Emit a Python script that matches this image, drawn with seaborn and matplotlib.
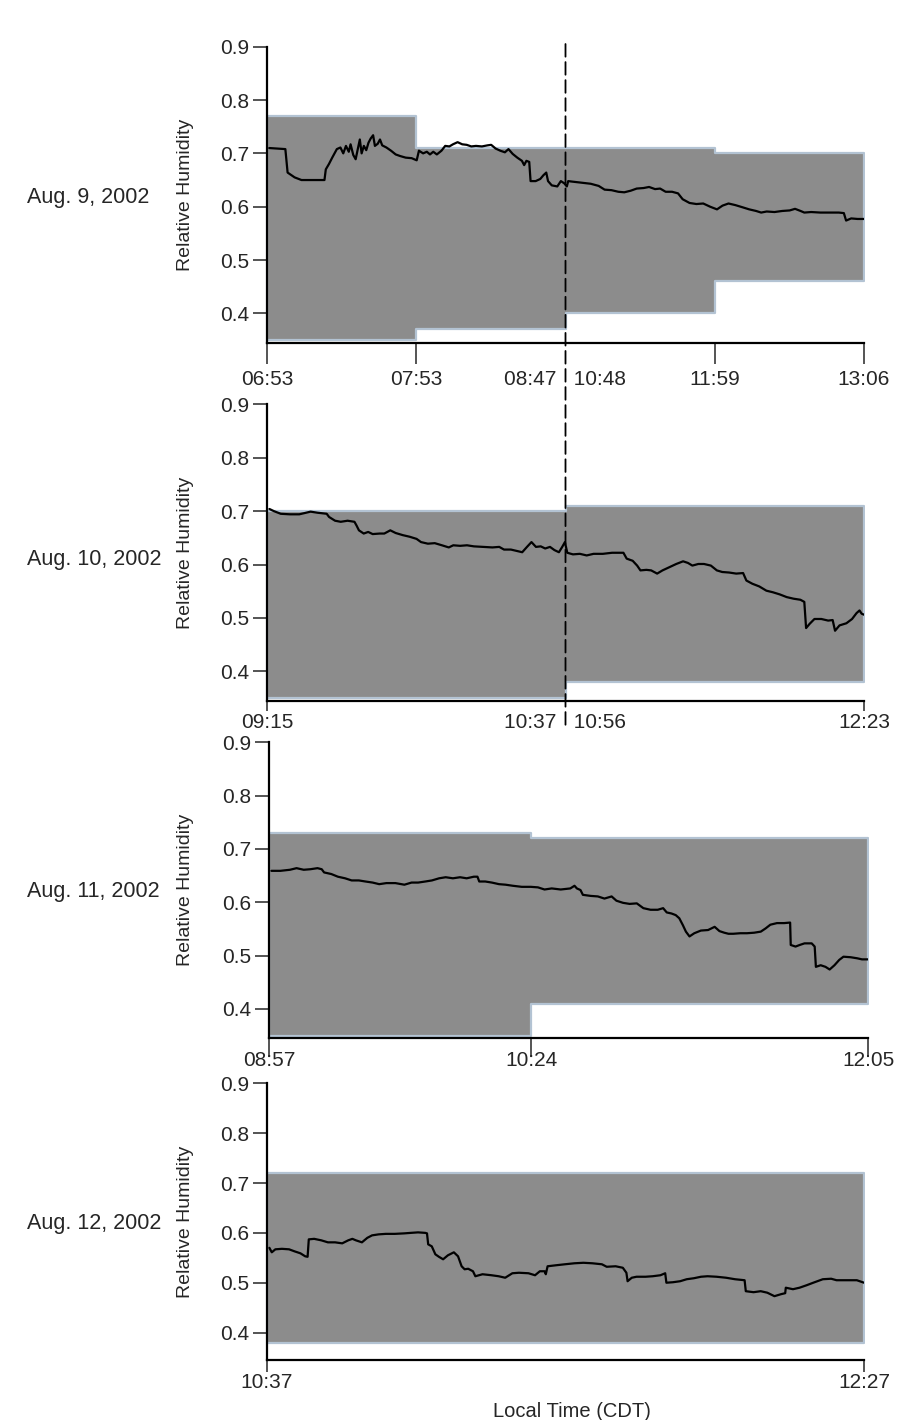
import numpy as np
import pandas as pd
import matplotlib
matplotlib.use("Agg")
import matplotlib.pyplot as plt
from matplotlib.patches import ConnectionPatch
import seaborn as sns

# ---------------------------------------------------------------- data
dates = ["Aug. 9, 2002", "Aug. 10, 2002", "Aug. 11, 2002", "Aug. 12, 2002"]

# time-axis ticks: boundaries between sampling periods
ticks_aug9 = [0, 1, 2, 3, 4]
ticks_aug10 = [0, 1, 2]
ticks_aug11 = [0, 0.438, 1]
ticks_aug12 = [0, 1]

labels_aug9 = ["06:53", "07:53", "08:47   10:48", "11:59", "13:06"]
labels_aug10 = ["09:15", "10:37   10:56", "12:23"]
labels_aug11 = ["08:57", "10:24", "12:05"]
labels_aug12 = ["10:37", "12:27"]

# gap in the record (drawn as a dashed line) for the first two days
gap_aug9 = 2
gap_aug10 = 1

# modelled humidity range in each sampling period
box_lo_aug9 = [0.35, 0.37, 0.40, 0.46]
box_hi_aug9 = [0.77, 0.71, 0.71, 0.70]
box_lo_aug10 = [0.35, 0.38]
box_hi_aug10 = [0.70, 0.71]
box_lo_aug11 = [0.35, 0.41]
box_hi_aug11 = [0.73, 0.72]
box_lo_aug12 = [0.38]
box_hi_aug12 = [0.72]

# measured relative humidity
t_aug9 = [0.015, 0.123, 0.138, 0.185, 0.231, 0.385, 0.394, 0.415, 0.437, 0.468,
          0.492, 0.511, 0.529, 0.548, 0.560, 0.578, 0.594, 0.609, 0.622, 0.634,
          0.649, 0.665, 0.680, 0.695, 0.711, 0.723, 0.742, 0.757, 0.772, 0.800,
          0.831, 0.862, 0.892, 0.929, 0.969, 1.003, 1.018, 1.046, 1.071, 1.092,
          1.114, 1.138, 1.169, 1.194, 1.222, 1.246, 1.277, 1.308, 1.338, 1.369,
          1.400, 1.440, 1.477, 1.502, 1.532, 1.563, 1.594, 1.618, 1.646, 1.677,
          1.708, 1.723, 1.738, 1.757, 1.766, 1.800, 1.831, 1.852, 1.871, 1.883,
          1.908, 1.945, 1.969, 1.991, 2.009, 2.018, 2.046, 2.108, 2.169, 2.222,
          2.262, 2.308, 2.354, 2.394, 2.437, 2.477, 2.523, 2.560, 2.600, 2.634,
          2.671, 2.714, 2.754, 2.785, 2.831, 2.877, 2.923, 2.969, 3.015, 3.052,
          3.092, 3.138, 3.185, 3.231, 3.277, 3.311, 3.348, 3.400, 3.452, 3.502,
          3.538, 3.575, 3.600, 3.646, 3.708, 3.769, 3.831, 3.865, 3.880, 3.914,
          3.957, 4.000]
rh_aug9 = [0.710, 0.708, 0.664, 0.655, 0.650, 0.650, 0.670, 0.680, 0.692, 0.708,
           0.711, 0.700, 0.714, 0.703, 0.717, 0.697, 0.689, 0.709, 0.726, 0.700,
           0.714, 0.706, 0.720, 0.728, 0.734, 0.714, 0.718, 0.726, 0.715, 0.711,
           0.705, 0.698, 0.695, 0.692, 0.691, 0.687, 0.705, 0.700, 0.703, 0.698,
           0.703, 0.698, 0.705, 0.714, 0.713, 0.717, 0.721, 0.717, 0.716, 0.713,
           0.714, 0.713, 0.715, 0.716, 0.709, 0.705, 0.702, 0.708, 0.699, 0.692,
           0.686, 0.678, 0.686, 0.684, 0.648, 0.648, 0.652, 0.659, 0.664, 0.648,
           0.640, 0.638, 0.648, 0.644, 0.638, 0.648, 0.647, 0.645, 0.643, 0.639,
           0.632, 0.631, 0.628, 0.627, 0.630, 0.634, 0.635, 0.637, 0.633, 0.634,
           0.628, 0.628, 0.625, 0.614, 0.607, 0.605, 0.606, 0.600, 0.595, 0.602,
           0.606, 0.603, 0.599, 0.595, 0.592, 0.589, 0.591, 0.590, 0.592, 0.593,
           0.596, 0.592, 0.589, 0.590, 0.589, 0.589, 0.589, 0.588, 0.574, 0.578,
           0.577, 0.577]

t_aug10 = [0.008, 0.023, 0.046, 0.077, 0.108, 0.131, 0.146, 0.169, 0.200, 0.208,
           0.228, 0.247, 0.270, 0.293, 0.300, 0.308, 0.324, 0.339, 0.354, 0.378,
           0.393, 0.413, 0.431, 0.455, 0.478, 0.501, 0.516, 0.539, 0.562, 0.586,
           0.609, 0.624, 0.647, 0.670, 0.693, 0.724, 0.755, 0.778, 0.794, 0.817,
           0.840, 0.855, 0.871, 0.886, 0.901, 0.917, 0.932, 0.948, 0.963, 0.978,
           0.989, 0.998, 1.006, 1.025, 1.048, 1.071, 1.094, 1.125, 1.156, 1.194,
           1.205, 1.225, 1.240, 1.251, 1.271, 1.287, 1.307, 1.325, 1.348, 1.371,
           1.394, 1.410, 1.425, 1.445, 1.464, 1.487, 1.507, 1.525, 1.548, 1.572,
           1.595, 1.606, 1.626, 1.649, 1.673, 1.695, 1.718, 1.741, 1.764, 1.787,
           1.800, 1.806, 1.818, 1.834, 1.857, 1.880, 1.895, 1.903, 1.918, 1.941,
           1.960, 1.975, 1.985, 1.992, 2.000]
rh_aug10 = [0.704, 0.700, 0.695, 0.694, 0.694, 0.697, 0.699, 0.697, 0.695, 0.689,
            0.682, 0.680, 0.682, 0.680, 0.673, 0.664, 0.658, 0.661, 0.657, 0.658,
            0.658, 0.664, 0.659, 0.655, 0.652, 0.648, 0.642, 0.639, 0.640, 0.636,
            0.632, 0.636, 0.635, 0.636, 0.634, 0.633, 0.632, 0.633, 0.628, 0.628,
            0.625, 0.623, 0.633, 0.642, 0.633, 0.634, 0.630, 0.633, 0.627, 0.623,
            0.633, 0.642, 0.622, 0.619, 0.620, 0.617, 0.620, 0.620, 0.622, 0.622,
            0.611, 0.607, 0.598, 0.589, 0.590, 0.589, 0.583, 0.589, 0.595, 0.601,
            0.606, 0.603, 0.598, 0.601, 0.601, 0.598, 0.589, 0.586, 0.585, 0.583,
            0.584, 0.570, 0.564, 0.559, 0.551, 0.548, 0.544, 0.539, 0.536, 0.534,
            0.530, 0.481, 0.489, 0.498, 0.498, 0.495, 0.496, 0.476, 0.486, 0.490,
            0.498, 0.509, 0.514, 0.508, 0.506]

t_aug11 = [0.004, 0.019, 0.035, 0.046, 0.058, 0.069, 0.081, 0.088, 0.092, 0.104,
           0.115, 0.127, 0.138, 0.150, 0.161, 0.173, 0.184, 0.196, 0.211, 0.226,
           0.238, 0.249, 0.261, 0.272, 0.284, 0.295, 0.307, 0.319, 0.330, 0.342,
           0.348, 0.351, 0.361, 0.372, 0.384, 0.395, 0.407, 0.422, 0.437, 0.449,
           0.460, 0.472, 0.487, 0.503, 0.510, 0.514, 0.520, 0.524, 0.537, 0.549,
           0.560, 0.572, 0.580, 0.591, 0.602, 0.614, 0.625, 0.637, 0.649, 0.658,
           0.664, 0.672, 0.679, 0.685, 0.691, 0.696, 0.702, 0.710, 0.721, 0.733,
           0.744, 0.752, 0.760, 0.767, 0.775, 0.787, 0.798, 0.810, 0.821, 0.829,
           0.837, 0.848, 0.860, 0.870, 0.871, 0.879, 0.886, 0.894, 0.906, 0.911,
           0.913, 0.921, 0.929, 0.936, 0.944, 0.952, 0.959, 0.971, 0.982, 0.990,
           1.000]
rh_aug11 = [0.659, 0.659, 0.661, 0.664, 0.661, 0.662, 0.664, 0.662, 0.656, 0.653,
            0.648, 0.645, 0.641, 0.641, 0.639, 0.637, 0.634, 0.636, 0.636, 0.633,
            0.637, 0.637, 0.639, 0.641, 0.645, 0.647, 0.645, 0.647, 0.645, 0.648,
            0.648, 0.639, 0.639, 0.637, 0.634, 0.633, 0.631, 0.629, 0.629, 0.628,
            0.624, 0.626, 0.624, 0.626, 0.631, 0.626, 0.623, 0.614, 0.612, 0.611,
            0.607, 0.611, 0.603, 0.599, 0.597, 0.598, 0.589, 0.586, 0.586, 0.589,
            0.581, 0.579, 0.576, 0.570, 0.557, 0.545, 0.536, 0.542, 0.547, 0.548,
            0.554, 0.546, 0.543, 0.541, 0.541, 0.542, 0.542, 0.543, 0.545, 0.551,
            0.558, 0.561, 0.561, 0.562, 0.520, 0.517, 0.520, 0.523, 0.523, 0.517,
            0.479, 0.482, 0.479, 0.474, 0.482, 0.492, 0.498, 0.497, 0.495, 0.493,
            0.493]

t_aug12 = [0.004, 0.008, 0.014, 0.025, 0.037, 0.046, 0.056, 0.064, 0.068, 0.070,
           0.079, 0.091, 0.102, 0.114, 0.126, 0.136, 0.143, 0.149, 0.159, 0.168,
           0.176, 0.187, 0.199, 0.214, 0.230, 0.241, 0.253, 0.265, 0.268, 0.270,
           0.276, 0.282, 0.288, 0.295, 0.303, 0.313, 0.320, 0.326, 0.331, 0.337,
           0.345, 0.349, 0.361, 0.376, 0.388, 0.399, 0.411, 0.422, 0.438, 0.449,
           0.457, 0.465, 0.467, 0.470, 0.484, 0.499, 0.515, 0.530, 0.545, 0.561,
           0.569, 0.584, 0.596, 0.602, 0.604, 0.611, 0.619, 0.634, 0.646, 0.659,
           0.667, 0.669, 0.680, 0.692, 0.703, 0.715, 0.727, 0.738, 0.753, 0.769,
           0.784, 0.800, 0.802, 0.815, 0.827, 0.838, 0.850, 0.861, 0.868, 0.869,
           0.881, 0.892, 0.904, 0.915, 0.931, 0.945, 0.954, 0.965, 0.977, 0.988,
           1.000]
rh_aug12 = [0.570, 0.561, 0.567, 0.568, 0.567, 0.563, 0.559, 0.553, 0.552, 0.587,
            0.588, 0.585, 0.581, 0.581, 0.579, 0.585, 0.588, 0.585, 0.581, 0.590,
            0.595, 0.597, 0.598, 0.598, 0.599, 0.600, 0.601, 0.600, 0.599, 0.577,
            0.573, 0.557, 0.552, 0.547, 0.555, 0.561, 0.553, 0.533, 0.527, 0.528,
            0.523, 0.513, 0.517, 0.515, 0.513, 0.510, 0.519, 0.520, 0.519, 0.515,
            0.523, 0.523, 0.517, 0.533, 0.535, 0.537, 0.539, 0.540, 0.539, 0.537,
            0.532, 0.533, 0.530, 0.520, 0.503, 0.510, 0.512, 0.512, 0.513, 0.515,
            0.519, 0.500, 0.501, 0.503, 0.507, 0.509, 0.512, 0.513, 0.512, 0.510,
            0.507, 0.505, 0.483, 0.481, 0.483, 0.480, 0.473, 0.477, 0.479, 0.490,
            0.487, 0.490, 0.495, 0.500, 0.507, 0.508, 0.505, 0.505, 0.505, 0.505,
            0.500]

y_ticks = [0.4, 0.5, 0.6, 0.7, 0.8, 0.9]

# ---------------------------------------------------------------- style
sns.set_theme(style="ticks")
plt.rcParams["font.family"] = ["Liberation Sans", "DejaVu Sans"]
plt.rcParams["text.color"] = "#262626"

FILL = "#8c8c8c"
EDGE = "#b3c3d3"
TXT = "#262626"

# axes rectangles in figure pixels: left, top, width, height
W, H = 902, 1420
panels = [
    dict(t=t_aug9, rh=rh_aug9, ticks=ticks_aug9, labels=labels_aug9,
         lo=box_lo_aug9, hi=box_hi_aug9, gap=gap_aug9,
         box=(267, 46.7, 597, 296.0), ticklen=15, tickpad=4.3),
    dict(t=t_aug10, rh=rh_aug10, ticks=ticks_aug10, labels=labels_aug10,
         lo=box_lo_aug10, hi=box_hi_aug10, gap=gap_aug10,
         box=(267, 404.3, 597, 296.4), ticklen=7, tickpad=2.2),
    dict(t=t_aug11, rh=rh_aug11, ticks=ticks_aug11, labels=labels_aug11,
         lo=box_lo_aug11, hi=box_hi_aug11, gap=None,
         box=(269, 742.3, 599, 296.0), ticklen=14, tickpad=-4.8),
    dict(t=t_aug12, rh=rh_aug12, ticks=ticks_aug12, labels=labels_aug12,
         lo=box_lo_aug12, hi=box_hi_aug12, gap=None,
         box=(267, 1083.3, 597, 276.7), ticklen=8.6, tickpad=0.8),
]
date_y = [197, 560, 891, 1223]

fig = plt.figure(figsize=(W / 100, H / 100), dpi=100)
fig.patch.set_facecolor("white")

axes = []
for i, p in enumerate(panels):
    left, top, width, height = p["box"]
    ax = fig.add_axes([left / W, 1 - (top + height) / H, width / W, height / H])
    axes.append(ax)
    ax.set_facecolor("white")

    # modelled range: stepped band over the sampling periods
    edges = np.array(p["ticks"], dtype=float)
    lo = np.append(p["lo"], p["lo"][-1])
    hi = np.append(p["hi"], p["hi"][-1])
    ax.fill_between(edges, lo, hi, step="post", facecolor=FILL,
                    edgecolor=EDGE, linewidth=1.6, zorder=1)

    # measured humidity trace
    df = pd.DataFrame({"t": p["t"], "rh": p["rh"]})
    sns.lineplot(data=df, x="t", y="rh", ax=ax, color="black",
                 linewidth=1.6, estimator=None, legend=False, zorder=3)

    ax.set_xlim(edges[0], edges[-1])
    ax.set_ylim(0.345, 0.9)
    ax.set_yticks(y_ticks)
    ax.set_yticklabels([f"{v:.1f}" for v in y_ticks])
    ax.set_xticks(p["ticks"])
    ax.set_xticklabels(p["labels"])
    ax.tick_params(axis="y", length=10, width=1.1, pad=3, labelsize=15,
                   colors=TXT, direction="out")
    ax.tick_params(axis="x", length=p["ticklen"], width=1.1, pad=p["tickpad"],
                   labelsize=15, colors=TXT, direction="out")
    for tk in ax.xaxis.get_major_ticks():
        tk.tick1line.set_color("black")
    for tk in ax.yaxis.get_major_ticks():
        tk.tick1line.set_color("black")
    if p["gap"] is not None:
        ax.xaxis.get_major_ticks()[p["ticks"].index(p["gap"])].tick1line.set_visible(False)

    for side in ("top", "right"):
        ax.spines[side].set_visible(False)
    for side in ("left", "bottom"):
        ax.spines[side].set_color("black")
        ax.spines[side].set_linewidth(1.6)

    ax.set_xlabel("")
    ax.set_ylabel("Relative Humidity", fontsize=14, color=TXT)
    ax.yaxis.set_label_coords((194 - left) / width, 0.5)

    fig.text(27 / W, 1 - date_y[i] / H, dates[i], ha="left", va="center",
             fontsize=15.5, color=TXT)

axes[-1].set_xlabel("Local Time (CDT)", fontsize=14.5, color=TXT)
axes[-1].xaxis.set_label_coords(0.51, -0.152)

# dashed marker of the break in the record, spanning the first two days
gap_line = ConnectionPatch(xyA=(gap_aug9, 0.905), coordsA="data", axesA=axes[0],
                           xyB=(gap_aug10, 0.292), coordsB="data", axesB=axes[1],
                           color="black", linewidth=1.3, linestyle=(0, (7, 3)),
                           zorder=5)
gap_line.set_annotation_clip(False)
fig.add_artist(gap_line)

fig.savefig("out.png", dpi=100, facecolor="white")
